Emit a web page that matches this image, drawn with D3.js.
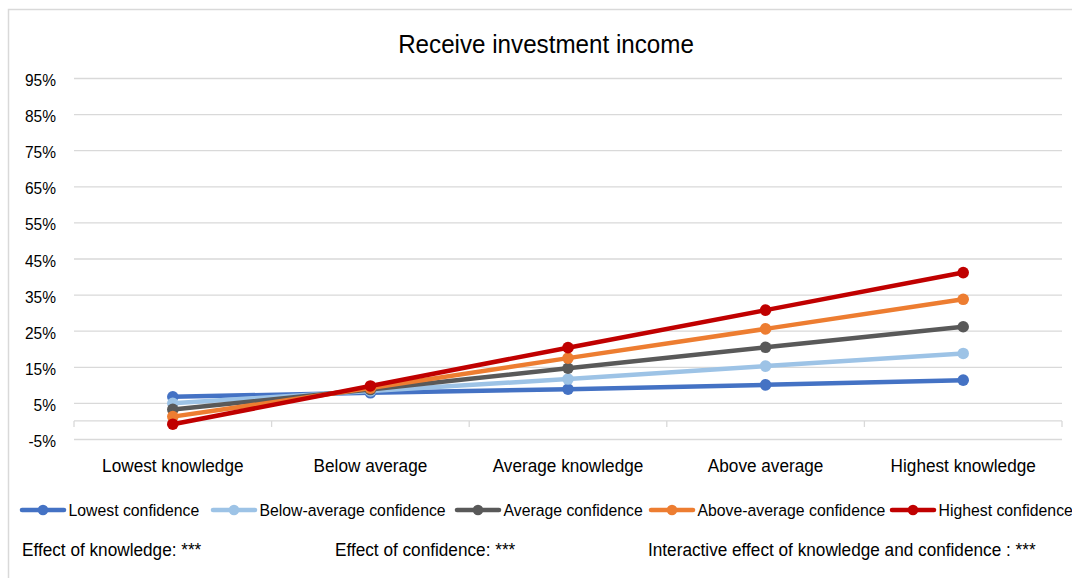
<!DOCTYPE html>
<html>
<head>
<meta charset="utf-8">
<script src="https://cdn.jsdelivr.net/npm/d3@7"></script>
<style>
  html, body { margin: 0; padding: 0; background: #fff; }
  svg { display: block; font-family: "Liberation Sans", Arial, sans-serif; }
</style>
</head>
<body>
<svg id="chart" width="1072" height="578"></svg>
<script>
// Knowledge levels along the x axis
const categories = ["Lowest knowledge", "Below average", "Average knowledge", "Above average", "Highest knowledge"];

// Share receiving investment income (%) per confidence group
const seriesNames = ["Lowest confidence", "Below-average confidence", "Average confidence", "Above-average confidence", "Highest confidence"];
const lowestConf       = [6.7, 7.8, 8.8, 10.0, 11.3];
const belowAvgConf     = [4.9, 8.3, 11.6, 15.2, 18.7];
const averageConf      = [3.2, 8.7, 14.6, 20.4, 26.1];
const aboveAvgConf     = [1.2, 9.1, 17.4, 25.5, 33.7];
const highestConf      = [-0.9, 9.7, 20.3, 30.7, 41.1];
const seriesColors = ["#4472C4", "#9DC3E6", "#595959", "#ED7D31", "#C00000"];

const yTicks = [-5, 5, 15, 25, 35, 45, 55, 65, 75, 85, 95];
const notes = ["Effect of knowledge: ***", "Effect of confidence: ***", "Interactive effect of knowledge and confidence : ***"];

const series = [lowestConf, belowAvgConf, averageConf, aboveAvgConf, highestConf]
  .map((values, i) => ({ name: seriesNames[i], color: seriesColors[i], values }));

const svg = d3.select("#chart");
const TALL = 1.065; // slightly tall glyphs

// Chart frame (runs off the right and bottom edges)
svg.append("rect")
  .attr("x", 8.5).attr("y", 9.5)
  .attr("width", 1100).attr("height", 600)
  .attr("fill", "#fff").attr("stroke", "#d9d9d9").attr("stroke-width", 1.5);

// Title
svg.append("text")
  .attr("transform", `translate(546,53) scale(1,${TALL})`)
  .attr("text-anchor", "middle")
  .attr("font-size", 24.2).attr("fill", "#000")
  .text("Receive investment income");

const plotLeft = 74, plotRight = 1062;

const x = d3.scaleBand().domain(categories).range([plotLeft, plotRight]).padding(0);
const y = d3.scaleLinear().domain([-5, 95]).range([439, 78]);

// Horizontal gridlines
const yAxis = d3.axisLeft(y).tickValues(yTicks)
  .tickFormat("")
  .tickSize(-(plotRight - plotLeft));
const gy = svg.append("g").attr("transform", `translate(${plotLeft},0)`).call(yAxis);
gy.select(".domain").remove();
gy.selectAll(".tick line").attr("stroke", "#d9d9d9").attr("stroke-width", 1.3);
gy.selectAll(".tick text").remove();

// Y labels
svg.append("g").selectAll("text").data(yTicks).join("text")
  .attr("transform", d => `translate(56,${y(d) + 8}) scale(1,${TALL})`)
  .attr("text-anchor", "end")
  .attr("font-size", 15.5).attr("fill", "#000")
  .text(d => d + "%");

// Category axis at zero with tick marks on band boundaries
const gx = svg.append("g").attr("transform", `translate(0,${y(0)})`);
gx.append("line")
  .attr("x1", plotLeft).attr("x2", plotRight)
  .attr("stroke", "#d9d9d9").attr("stroke-width", 1.3);
const boundaries = categories.map(c => x(c)).concat([x(categories[categories.length - 1]) + x.bandwidth()]);
gx.selectAll("line.tk").data(boundaries).join("line").attr("class", "tk")
  .attr("x1", d => d).attr("x2", d => d)
  .attr("y1", 0).attr("y2", 6)
  .attr("stroke", "#d9d9d9").attr("stroke-width", 1.3);

svg.append("g").selectAll("text").data(categories).join("text")
  .attr("transform", d => `translate(${x(d) + x.bandwidth() / 2},472) scale(1,${TALL})`)
  .attr("text-anchor", "middle")
  .attr("font-size", 17.2).attr("fill", "#000")
  .text(d => d);

// Lines and markers
const line = d3.line()
  .x((d, i) => x(categories[i]) + x.bandwidth() / 2)
  .y(d => y(d));

const gs = svg.append("g").selectAll("g").data(series).join("g");
gs.append("path")
  .attr("d", d => line(d.values))
  .attr("fill", "none")
  .attr("stroke", d => d.color)
  .attr("stroke-width", 4.5)
  .attr("stroke-linejoin", "round")
  .attr("stroke-linecap", "round");
gs.selectAll("circle").data(d => d.values.map(v => ({ v, color: d.color }))).join("circle")
  .attr("cx", (d, i) => x(categories[i]) + x.bandwidth() / 2)
  .attr("cy", d => y(d.v))
  .attr("r", 5.8)
  .attr("fill", d => d.color);

// Legend
const legendX = [22, 213, 457, 651, 892];
const lg = svg.append("g").selectAll("g").data(series).join("g")
  .attr("transform", (d, i) => `translate(${legendX[i]},510)`);
lg.append("line")
  .attr("x1", 0).attr("x2", 42)
  .attr("stroke", d => d.color).attr("stroke-width", 4.5).attr("stroke-linecap", "round");
lg.append("circle").attr("cx", 21).attr("cy", 0).attr("r", 5.3).attr("fill", d => d.color);
lg.append("text")
  .attr("transform", `translate(46.5,6) scale(1,${TALL})`)
  .attr("font-size", 15.8).attr("fill", "#000")
  .text(d => d.name);

// Significance notes
const noteX = [22, 335, 648];
svg.append("g").selectAll("text").data(notes).join("text")
  .attr("transform", (d, i) => `translate(${noteX[i]},556) scale(1,1.02)`)
  .attr("font-size", 17.2).attr("fill", "#000")
  .text(d => d);
</script>
</body>
</html>
